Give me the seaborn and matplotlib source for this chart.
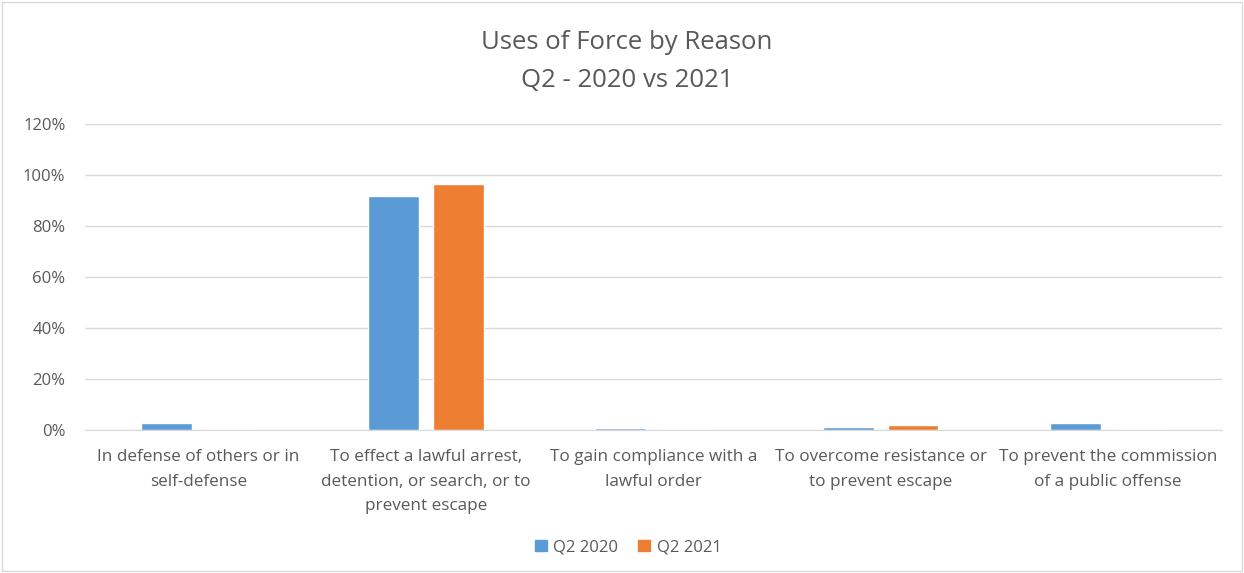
import pandas as pd
import matplotlib.pyplot as plt
import seaborn as sns
from matplotlib.ticker import PercentFormatter


categories = [
    "In defense of others or in\nself-defense",
    "To effect a lawful arrest,\ndetention, or search, or to\nprevent escape",
    "To gain compliance with a\nlawful order",
    "To overcome resistance or\nto prevent escape",
    "To prevent the commission\nof a public offense",
]
q2_2020 = [2.7, 91.8, 0.6, 1.0, 2.7]
q2_2021 = [0.0, 96.6, 0.0, 1.8, 0.0]
series = ["Q2 2020", "Q2 2021"]
colors = ["#5b9bd5", "#ed7d31"]


def build_frame():
    rows = []
    for cat, a, b in zip(categories, q2_2020, q2_2021):
        rows.append({"reason": cat, "period": series[0], "pct": a})
        rows.append({"reason": cat, "period": series[1], "pct": b})
    return pd.DataFrame(rows)


def main():
    df = build_frame()
    sns.set_style("white")
    plt.rcParams["font.family"] = ["Open Sans", "DejaVu Sans"]

    fig = plt.figure(figsize=(12.44, 5.73), dpi=100)
    ax = fig.add_axes([0.0683, 0.2496, 0.9137, 0.534])

    sns.barplot(
        data=df, x="reason", y="pct", hue="period",
        palette=colors, width=0.57, gap=0.215, ax=ax,
        saturation=1, legend=False,
    )

    ax.set_ylim(0, 120)
    ax.set_yticks(range(0, 121, 20))
    ax.yaxis.set_major_formatter(PercentFormatter(decimals=0))
    ax.grid(axis="y", color="#d9d9d9", linewidth=1)
    ax.set_axisbelow(True)
    for s in ["top", "right", "left"]:
        ax.spines[s].set_visible(False)
    ax.spines["bottom"].set_color("#d9d9d9")
    ax.tick_params(axis="both", length=0, colors="#595959", labelsize=12)
    ax.tick_params(axis="x", pad=14)
    ax.tick_params(axis="y", pad=14)
    for lbl in ax.get_xticklabels():
        lbl.set_linespacing(1.68)
        lbl.set_fontsize(12.3)
    ax.set_xlabel("")
    ax.set_ylabel("")
    ax.set_xlim(-0.5, 4.5)

    fig.text(0.504, 0.925, "Uses of Force by Reason", ha="center", va="center",
             fontsize=18.5, color="#595959")
    fig.text(0.504, 0.86, "Q2 - 2020 vs 2021", ha="center", va="center",
             fontsize=18.5, color="#595959")

    handles = [plt.Rectangle((0, 0), 1, 1, color=c) for c in colors]
    fig.legend(handles, series, loc="center", bbox_to_anchor=(0.505, 0.045),
               ncol=2, frameon=False, fontsize=12, handlelength=0.7,
               handleheight=0.7, handletextpad=0.4, columnspacing=1.2,
               labelcolor="#595959")

    border = plt.Rectangle((0.002, 0.003), 0.996, 0.994, transform=fig.transFigure,
                           fill=False, edgecolor="#d9d9d9", linewidth=1)
    fig.patches.append(border)

    fig.savefig("out.png", dpi=100)
    plt.close(fig)


if __name__ == "__main__":
    main()
